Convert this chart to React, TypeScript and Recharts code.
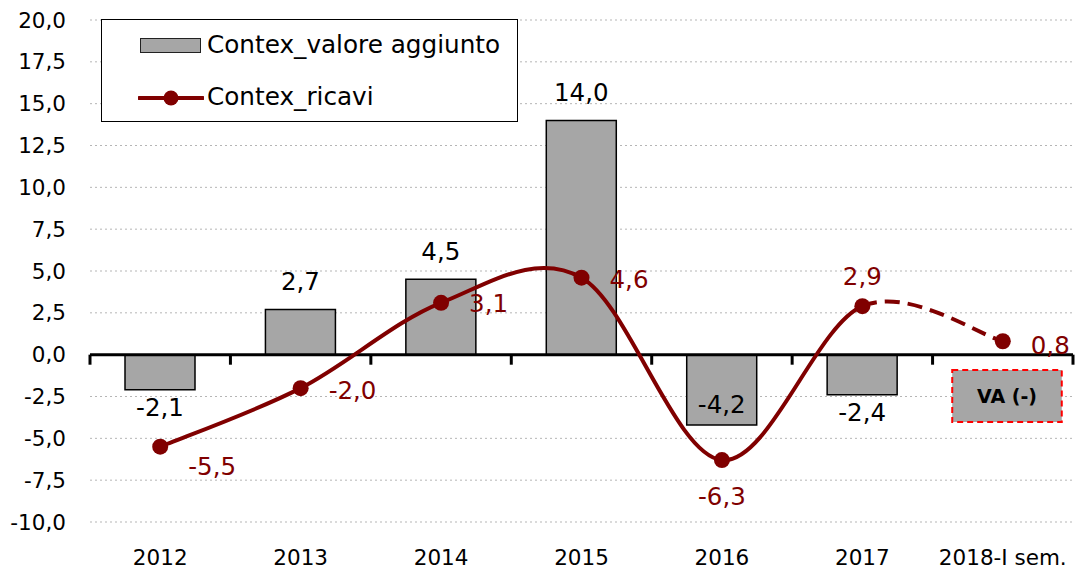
import {
  ComposedChart,
  Bar,
  Line,
  XAxis,
  YAxis,
  CartesianGrid,
  ReferenceLine,
  ReferenceArea,
  LabelList,
} from 'recharts'

const CATEGORIES = ['2012', '2013', '2014', '2015', '2016', '2017', '2018-I sem.']
const VALORE_AGGIUNTO: (number | null)[] = [-2.1, 2.7, 4.5, 14.0, -4.2, -2.4, null]
const RICAVI = [-5.5, -2.0, 3.1, 4.6, -6.3, 2.9, 0.8]
const Y_TICKS = [-10, -7.5, -5, -2.5, 0, 2.5, 5, 7.5, 10, 12.5, 15, 17.5, 20]

const data = CATEGORIES.map((c, i) => ({
  x: i + 0.5,
  name: c,
  va: VALORE_AGGIUNTO[i],
  ricavi: RICAVI[i],
}))

const X_TICKS = data.map((d) => d.x)
const BOUNDARIES = CATEGORIES.map((_, i) => i).concat(CATEGORIES.length)

// label placement (style only)
const BAR_LABEL_POS = ['below', 'above', 'above', 'above', 'inside', 'below', 'none']
const LINE_LABEL_POS: [number, number, 'start' | 'middle'][] = [
  [28, 20, 'start'],
  [28, 2, 'start'],
  [28, 1, 'start'],
  [28, 2, 'start'],
  [0, 36, 'middle'],
  [0, -30, 'middle'],
  [28, 4, 'start'],
]

const FONT = '"DejaVu Sans", Verdana, sans-serif'
const RED = '#800000'
const GREY = '#a6a6a6'

const fmt = (v: number) => v.toFixed(1).replace('.', ',')

// Excel-like smoothing (Catmull-Rom as bezier), drawing only segments [from, to]
function excelCurve(from: number, to: number) {
  return (context: any) => {
    let pts: [number, number][] = []
    return {
      areaStart() {},
      areaEnd() {},
      lineStart() {
        pts = []
      },
      point(x: number, y: number) {
        pts.push([+x, +y])
      },
      lineEnd() {
        const n = pts.length
        const last = Math.min(to, n - 1)
        if (from >= last) return
        context.moveTo(pts[from][0], pts[from][1])
        for (let i = from; i < last; i++) {
          const p0 = pts[Math.max(i - 1, 0)]
          const p1 = pts[i]
          const p2 = pts[i + 1]
          const p3 = pts[Math.min(i + 2, n - 1)]
          context.bezierCurveTo(
            p1[0] + (p2[0] - p0[0]) / 6,
            p1[1] + (p2[1] - p0[1]) / 6,
            p2[0] - (p3[0] - p1[0]) / 6,
            p2[1] - (p3[1] - p1[1]) / 6,
            p2[0],
            p2[1],
          )
        }
      },
    }
  }
}

const solidCurve = excelCurve(0, 5)
const dashedCurve = excelCurve(5, 6)

function BarLabel(props: any) {
  const { x, y, width, height, value, index } = props
  if (value == null) return null
  const pos = BAR_LABEL_POS[index]
  const top = Math.min(y, y + height)
  const bottom = Math.max(y, y + height)
  const cx = x + width / 2
  let cy = top - 28
  if (pos === 'below') cy = bottom + 18
  if (pos === 'inside') cy = bottom - 20
  return (
    <text
      x={cx}
      y={cy}
      textAnchor="middle"
      dominantBaseline="central"
      fontFamily={FONT}
      fontSize={24.5}
      fill="#000"
    >
      {fmt(value)}
    </text>
  )
}

function LineLabel(props: any) {
  const { x, y, value, index } = props
  if (value == null) return null
  const [dx, dy, anchor] = LINE_LABEL_POS[index]
  return (
    <text
      x={x + dx}
      y={y + dy}
      textAnchor={anchor}
      dominantBaseline="central"
      fontFamily={FONT}
      fontSize={24.5}
      fill={RED}
    >
      {fmt(value)}
    </text>
  )
}

function LegendBox() {
  return (
    <div
      style={{
        position: 'absolute',
        left: 101,
        top: 19,
        width: 417,
        height: 103,
        boxSizing: 'border-box',
        border: '1.5px solid #000',
        background: '#fff',
        fontFamily: FONT,
        fontSize: 24.7,
        color: '#000',
      }}
    >
      <div
        style={{
          position: 'absolute',
          left: 38,
          top: 18,
          width: 61,
          height: 15,
          boxSizing: 'border-box',
          background: GREY,
          border: '1.5px solid #222',
        }}
      />
      <div style={{ position: 'absolute', left: 105, top: 10, lineHeight: '30px', whiteSpace: 'nowrap' }}>
        Contex_valore aggiunto
      </div>
      <svg style={{ position: 'absolute', left: 36, top: 68 }} width={66} height={20}>
        <line x1={1} y1={10} x2={65} y2={10} stroke={RED} strokeWidth={4} strokeLinecap="round" />
        <circle cx={33} cy={10} r={7.5} fill={RED} />
      </svg>
      <div style={{ position: 'absolute', left: 105, top: 62, lineHeight: '30px', whiteSpace: 'nowrap' }}>
        Contex_ricavi
      </div>
    </div>
  )
}

export default function App() {
  return (
    <div style={{ position: 'absolute', left: 0, top: 0, width: 1076, height: 573, background: '#fff' }}>
      <ComposedChart
        width={1076}
        height={573}
        data={data}
        margin={{ top: 20, right: 3, bottom: 1, left: 0 }}
      >
        <CartesianGrid
          horizontal
          vertical={false}
          stroke="#b5b5b5"
          strokeDasharray="2 3"
        />
        <XAxis
          dataKey="x"
          type="number"
          domain={[0, 7]}
          ticks={X_TICKS}
          tickFormatter={(v: number) => CATEGORIES[Math.floor(v)]}
          axisLine={false}
          tickLine={false}
          tickSize={0}
          tickMargin={28}
          height={50}
          interval={0}
          tick={{ fontFamily: FONT, fontSize: 21.5, fill: '#000' }}
        />
        <YAxis
          domain={[-10, 20]}
          ticks={Y_TICKS}
          tickFormatter={fmt}
          axisLine={false}
          tickLine={false}
          tickSize={0}
          tickMargin={24}
          width={90}
          interval={0}
          tick={{ fontFamily: FONT, fontSize: 21.5, fill: '#000' }}
        />
        <Bar
          dataKey="va"
          name="Contex_valore aggiunto"
          fill={GREY}
          stroke="#000"
          strokeWidth={1.5}
          barSize={70}
          isAnimationActive={false}
        >
          <LabelList dataKey="va" content={<BarLabel />} />
        </Bar>
        <ReferenceLine y={0} stroke="#000" strokeWidth={3} />
        {BOUNDARIES.map((b) => (
          <ReferenceLine
            key={b}
            segment={[
              { x: b, y: 0 },
              { x: b, y: -0.6 },
            ]}
            stroke="#000"
            strokeWidth={3}
          />
        ))}
        <ReferenceArea
          x1={6.14}
          x2={6.92}
          y1={-0.92}
          y2={-4.02}
          fill={GREY}
          fillOpacity={1}
          stroke="#ff0000"
          strokeWidth={2}
          strokeDasharray="6 4"
          label={{
            value: 'VA (-)',
            position: 'center',
            fill: '#000',
            fontSize: 19,
            fontWeight: 'bold',
            fontFamily: FONT,
          }}
        />
        <Line
          dataKey="ricavi"
          type={dashedCurve as any}
          stroke={RED}
          strokeWidth={4}
          strokeDasharray="15 8"
          dot={false}
          activeDot={false}
          legendType="none"
          isAnimationActive={false}
        />
        <Line
          dataKey="ricavi"
          name="Contex_ricavi"
          type={solidCurve as any}
          stroke={RED}
          strokeWidth={4}
          dot={{ r: 8, fill: RED, stroke: RED, strokeWidth: 0 }}
          activeDot={false}
          isAnimationActive={false}
        >
          <LabelList dataKey="ricavi" content={<LineLabel />} />
        </Line>
      </ComposedChart>
      <LegendBox />
    </div>
  )
}
